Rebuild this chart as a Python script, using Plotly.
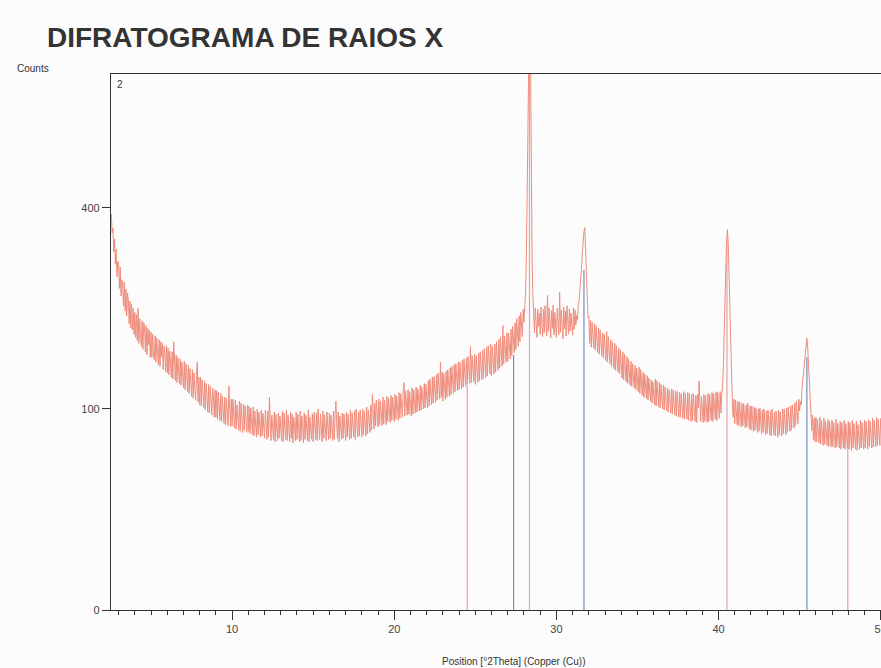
import math
import plotly.graph_objects as go

# ---- data ----
two_theta_start = 2.55   # first sampled position (deg 2theta)
two_theta_step = 0.05

counts_2_to_9 = [
    388, 352, 361, 318, 341, 296, 322, 275, 301,
    298, 256, 291, 244, 270, 262, 229, 266, 221, 255, 214, 249, 238, 203, 236, 197, 231, 194, 225, 188,
    219, 184, 216, 180, 225, 176, 210, 189, 172, 207, 168, 204, 197, 165, 200, 161, 196, 174, 194, 158,
    191, 158, 188, 162, 155, 186, 152, 183, 170, 149, 181, 147, 178, 158, 176, 143, 172, 163, 141, 173,
    139, 170, 137, 166, 151, 134, 165, 132, 178, 140, 130, 161, 128, 158, 147, 127, 156, 125, 152, 138,
    122, 153, 120, 150, 141, 118, 148, 116, 144, 128, 113, 143, 111, 139, 123, 109, 137, 152, 107, 134,
    104, 134, 103, 131, 118, 101, 130, 99, 127, 112, 97, 126, 96, 124, 108, 94, 122, 113, 92, 120,
    92, 119, 90, 117, 104, 89, 116, 88, 113, 101, 86, 112, 85, 111, 97, 84, 124, 109, 83, 110,
]
counts_10_to_19 = [
    84, 110, 96, 82, 109, 81, 104, 92, 80, 108, 79, 106, 95, 78, 105, 80, 103, 90, 78, 104,
    79, 103, 77, 101, 90, 76, 102, 75, 98, 88, 74, 100, 76, 97, 86, 74, 99, 75, 96, 85,
    73, 99, 87, 72, 98, 74, 112, 96, 71, 94, 84, 72, 97, 70, 95, 83, 71, 96, 73, 93,
    82, 71, 98, 70, 96, 84, 72, 99, 71, 94, 83, 70, 97, 73, 95, 69, 92, 85, 71, 97,
    72, 95, 83, 70, 98, 71, 93, 86, 69, 96, 72, 94, 82, 71, 99, 70, 92, 84, 72, 95,
    70, 97, 85, 72, 96, 71, 100, 83, 72, 95, 86, 70, 98, 73, 94, 82, 71, 97, 88, 72,
    96, 73, 94, 84, 71, 98, 72, 95, 108, 86, 73, 97, 70, 93, 84, 72, 96, 73, 95, 83,
    71, 97, 74, 95, 86, 72, 99, 73, 96, 85, 74, 98, 72, 100, 87, 74, 97, 75, 99, 86,
    74, 100, 76, 98, 88, 75, 102, 77, 99, 90, 78, 104, 80, 115, 93, 81, 106, 84, 109, 95,
    83, 110, 85, 108, 97, 84, 112, 86, 109, 98, 85, 113, 88, 111, 100, 87, 114, 89, 112, 101,
]
counts_20_to_29 = [
    88, 115, 90, 113, 102, 89, 117, 91, 116, 104, 92, 118, 128, 93, 119, 106, 94, 120, 95, 118,
    108, 93, 122, 95, 120, 109, 96, 123, 97, 121, 110, 98, 125, 99, 123, 112, 100, 127, 101, 126,
    115, 101, 130, 103, 132, 118, 104, 134, 106, 135, 121, 107, 137, 109, 139, 123, 110, 152, 112, 140,
    108, 139, 126, 110, 141, 112, 143, 128, 113, 145, 115, 147, 131, 116, 149, 118, 150, 134, 119, 152,
    120, 152, 137, 121, 154, 123, 156, 139, 124, 157, 126, 159, 141, 127, 172, 128, 160, 144, 129, 162,
    126, 160, 145, 128, 163, 130, 165, 148, 131, 167, 133, 169, 151, 134, 171, 136, 173, 154, 138, 175,
    136, 172, 156, 138, 175, 140, 178, 160, 142, 181, 145, 184, 165, 147, 200, 150, 186, 170, 152, 190,
    153, 190, 172, 156, 195, 160, 199, 180, 164, 204, 168, 210, 190, 172, 214, 178, 219, 198, 185, 224,
    205, 228, 250, 310, 420, 620, 850, 950, 780, 480, 310, 245, 222, 190, 226, 207, 184, 224, 199, 218,
    188, 227, 205, 185, 224, 190, 229, 210, 186, 245, 192, 226, 208, 183, 222, 196, 230, 187, 219, 203,
]
counts_30_to_39 = [
    184, 225, 209, 188, 250, 191, 223, 205, 182, 227, 196, 221, 186, 229, 207, 189, 224, 193, 218, 204,
    187, 226, 195, 223, 201, 215, 208, 232, 236, 255, 268, 288, 315, 342, 355, 362, 320, 268, 232, 212,
    214, 176, 208, 171, 205, 189, 170, 203, 167, 200, 183, 164, 197, 162, 194, 178, 160, 190, 157, 188,
    171, 154, 192, 152, 185, 168, 150, 181, 147, 178, 162, 144, 176, 142, 173, 158, 140, 170, 138, 167,
    150, 133, 165, 131, 162, 146, 129, 159, 127, 156, 142, 125, 153, 124, 150, 137, 122, 148, 120, 145,
    133, 118, 146, 116, 143, 130, 114, 140, 112, 138, 126, 111, 136, 109, 133, 122, 108, 131, 106, 129,
    119, 104, 132, 103, 130, 117, 102, 128, 101, 126, 114, 100, 125, 99, 123, 111, 98, 122, 97, 120,
    110, 96, 121, 95, 120, 108, 94, 119, 93, 118, 106, 92, 117, 92, 116, 105, 91, 118, 90, 116,
    104, 90, 117, 89, 116, 103, 88, 115, 89, 116, 102, 88, 114, 87, 115, 101, 130, 114, 88, 113,
    101, 87, 115, 88, 114, 102, 87, 116, 88, 115, 103, 89, 117, 88, 116, 104, 90, 118, 89, 117,
]
counts_40_to_50 = [
    104, 91, 118, 96, 115, 125, 148, 180, 228, 290, 340, 358, 330, 270, 205, 158, 125, 108, 92, 110,
    86, 109, 97, 85, 108, 84, 107, 95, 83, 106, 84, 105, 94, 82, 104, 83, 106, 93, 81, 103,
    80, 103, 92, 79, 102, 80, 101, 90, 78, 100, 79, 101, 89, 77, 99, 78, 100, 88, 76, 98,
    77, 99, 88, 76, 98, 75, 100, 87, 76, 97, 75, 98, 88, 74, 99, 76, 97, 87, 75, 100,
    77, 100, 89, 76, 101, 78, 102, 90, 79, 103, 80, 104, 93, 82, 106, 84, 108, 96, 86, 110,
    98, 108, 104, 122, 132, 145, 158, 170, 178, 183, 170, 150, 125, 105, 92, 80, 94, 72, 91, 70,
    92, 70, 90, 81, 69, 92, 68, 89, 80, 67, 91, 68, 88, 79, 67, 90, 66, 88, 78, 66,
    89, 66, 87, 78, 65, 90, 66, 86, 77, 65, 88, 64, 87, 77, 65, 89, 64, 86, 76, 65,
    88, 64, 87, 77, 63, 89, 65, 86, 76, 64, 88, 63, 85, 77, 64, 89, 65, 87, 76, 64,
    89, 65, 88, 78, 64, 90, 66, 88, 78, 65, 91, 66, 89, 79, 66, 92, 67, 90, 80, 67,
    91,
]

# reference pattern sticks
sylvite_pos = [24.50, 28.34, 40.52, 47.97]
sylvite_int = [125, 760, 340, 70]
halite_pos = [27.36, 31.70, 45.45]
halite_int = [161, 286, 158]

y_tick_values = [0, 100, 400]
y_max_counts = 711

# ---- build ----
counts = counts_2_to_9 + counts_10_to_19 + counts_20_to_29 + counts_30_to_39 + counts_40_to_50
assert len(counts) == 950, len(counts)
two_theta = [round(two_theta_start + i * two_theta_step, 3) for i in range(len(counts))]
sq = [math.sqrt(c) for c in counts]


def sticks(pos, inten):
    xs, ys = [], []
    for p, h in zip(pos, inten):
        xs += [p, p, None]
        ys += [0, math.sqrt(h), None]
    return xs, ys


fig = go.Figure()
sx, sy = sticks(sylvite_pos, sylvite_int)
fig.add_trace(go.Scatter(x=sx, y=sy, mode="lines",
                         line=dict(color="#E6A2A8", width=1.2), showlegend=False))
hx, hy = sticks(halite_pos, halite_int)
fig.add_trace(go.Scatter(x=hx, y=hy, mode="lines",
                         line=dict(color="#6F8FC6", width=1.2), showlegend=False))
fig.add_trace(go.Scatter(x=two_theta, y=sq, mode="lines",
                         line=dict(color="#EF8D7D", width=1), showlegend=False))

L, T, B = 111, 74, 58
W, H = 881, 668
pw, ph = W - L, H - T - B


def px(x):
    return (x - L) / pw


def py(y):
    return (H - B - y) / ph


font = "Liberation Sans, Arial, sans-serif"
fig.update_layout(
    width=W, height=H,
    margin=dict(l=L, r=0, t=T, b=B, autoexpand=False),
    paper_bgcolor="#FCFCFC", plot_bgcolor="#FCFCFC",
    font=dict(family=font, size=11, color="#333333"),
    showlegend=False,
    xaxis=dict(range=[2.53, 50.02], tick0=0, dtick=10, ticks="outside", ticklen=9,
               tickwidth=1, tickcolor="#333333", showline=True, linecolor="#333333",
               linewidth=1.3, mirror=True, showgrid=False, zeroline=False,
               ticklabeloverflow="allow", automargin=False,
               tickfont=dict(size=11, color="#444444"),
               minor=dict(dtick=1, tick0=0, ticks="outside", ticklen=4,
                          tickcolor="#333333", tickwidth=1, showgrid=False)),
    yaxis=dict(range=[0, math.sqrt(y_max_counts)],
               tickvals=[math.sqrt(v) for v in y_tick_values],
               ticktext=[str(v) for v in y_tick_values],
               ticks="outside", ticklen=8, tickwidth=1, tickcolor="#333333",
               showline=True, linecolor="#333333", linewidth=1.3,
               showgrid=False, zeroline=False, automargin=False,
               tickfont=dict(size=11, color="#444444")),
    annotations=[
        dict(text="<b>DIFRATOGRAMA DE RAIOS X</b>", x=px(45), y=py(38), xref="paper", yref="paper",
             xanchor="left", yanchor="middle", showarrow=False,
             font=dict(size=28, color="#333333", family=font)),
        dict(text="Counts", x=px(15), y=py(68), xref="paper", yref="paper",
             xanchor="left", yanchor="middle", showarrow=False,
             font=dict(size=10, color="#333333", family=font)),
        dict(text="2", x=px(115), y=py(84), xref="paper", yref="paper",
             xanchor="left", yanchor="middle", showarrow=False,
             font=dict(size=10, color="#333333", family=font)),
        dict(text="Position [°2Theta] (Copper (Cu))", x=px(440), y=py(661), xref="paper", yref="paper",
             xanchor="left", yanchor="middle", showarrow=False,
             font=dict(size=10, color="#333333", family=font)),
    ],
)

fig.write_html("out.html", config={"displayModeBar": False},
               post_script="document.body.style.margin='0px';")
